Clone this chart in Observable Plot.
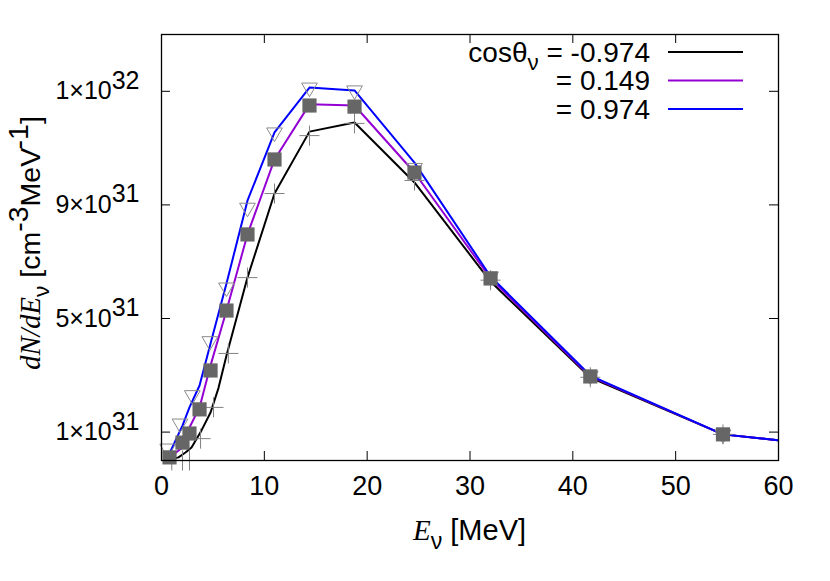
<!DOCTYPE html>
<html><head><meta charset="utf-8">
<script src="https://cdn.jsdelivr.net/npm/d3@7"></script>
<script src="https://cdn.jsdelivr.net/npm/@observablehq/plot@0.6"></script>
<style>
body{margin:0;background:#fff}
#chart svg{font-family:"Liberation Sans",Arial,Helvetica,sans-serif}
</style>
</head><body><div id="chart"></div>
<script>
// ---- data (values in units of 1e31 cm^-3 MeV^-1) ----
const UNIT = 1e31;
const xTicks = [0, 10, 20, 30, 40, 50, 60];
const yTicks = [1e31, 5e31, 9e31, 1.3e32];
const yTickLabels = ["1×10^{31}", "5×10^{31}", "9×10^{31}", "1×10^{32}"];
const legendLabels = ["cosθ_{ν} = -0.974", "= 0.149", "= 0.974"];
const seriesColors = ["#000000", "#9400d3", "#0000ff"];

// lines
const blackE = [0.6, 0.9, 1.65, 2.33, 2.92, 3.89, 4.77, 5.54, 6.32, 8.36, 10.99, 14.39, 18.77, 24.6, 32.0, 41.7, 54.6, 71.3];
const blackV = [0.07, 0.04, 0.11, 0.28, 0.46, 1.06, 1.69, 2.55, 3.70, 6.44, 9.40, 11.58, 11.90, 9.79, 6.30, 2.92, 0.92, 0.28];
const purpleE = [0.78, 2.04, 2.72, 3.70, 4.77, 6.32, 8.36, 10.99, 14.39, 18.77, 24.6, 32.0, 41.7, 54.6, 71.3];
const purpleV = [0.11, 0.46, 1.16, 1.87, 3.35, 5.28, 7.96, 10.60, 12.54, 12.50, 10.14, 6.41, 2.96, 0.92, 0.28];
const blueE = [0.78, 2.04, 2.72, 3.70, 4.77, 6.32, 8.36, 10.99, 14.39, 18.77, 24.6, 32.0, 41.7, 54.6, 71.3];
const blueV = [0.25, 1.23, 1.87, 2.64, 4.12, 6.23, 9.15, 11.55, 13.13, 13.03, 10.49, 6.48, 2.99, 0.92, 0.28];

// markers
const plusE = [1.0, 2.04, 2.72, 3.8, 5.06, 6.5, 8.36, 10.99, 14.39, 18.77, 24.6, 32.0, 41.7, 54.6];
const plusV = [0.0, 0.0, 0.0, 0.77, 1.87, 3.77, 6.44, 9.40, 11.44, 11.87, 9.86, 6.35, 2.93, 0.92];
const triE = [0.6, 1.8, 3.0, 4.7, 6.32, 8.36, 10.99, 14.39, 18.77, 24.6, 32.0, 41.7, 54.6];
const triV = [0.42, 1.30, 2.30, 4.20, 6.09, 8.90, 11.55, 13.13, 13.03, 10.30, 6.48, 2.99, 0.92];
const sqE = [0.78, 2.04, 2.72, 3.70, 4.77, 6.32, 8.36, 10.99, 14.39, 18.77, 24.6, 32.0, 41.7, 54.6];
const sqV = [0.11, 0.63, 0.95, 1.80, 3.17, 5.28, 7.96, 10.6, 12.5, 12.46, 10.14, 6.41, 2.96, 0.92];

const pts = (E, V) => E.map((e, i) => ({E: e, v: V[i] * UNIT}));

const W = 830, H = 581, ML = 161, MR = 52, MT = 34, MB = 121;
const PW = W - ML - MR, PH = H - MT - MB, TL = 9;

const chart = Plot.plot({
  width: W, height: H,
  marginLeft: ML, marginRight: MR, marginTop: MT, marginBottom: MB,
  style: {fontSize: "25px", color: "black", background: "white", overflow: "visible"},
  x: {domain: [0, 60]},
  y: {domain: [0, 1.5e32]},
  marks: [
    Plot.line(pts(blackE, blackV), {x: "E", y: "v", stroke: seriesColors[0], strokeWidth: 2, clip: true}),
    Plot.line(pts(purpleE, purpleV), {x: "E", y: "v", stroke: seriesColors[1], strokeWidth: 2, clip: true}),
    Plot.line(pts(blueE, blueV), {x: "E", y: "v", stroke: seriesColors[2], strokeWidth: 2, clip: true}),
    Plot.dot(pts(plusE, plusV), {x: "E", y: "v", symbol: "plus", stroke: "#808080", strokeWidth: 1, r: 6.5}),
    Plot.dot(pts(triE, triV), {x: "E", y: "v", symbol: "triangle2", rotate: 180, stroke: "#8a8a8a", strokeWidth: 1, r: 7.5}),
    Plot.dot(pts(sqE, sqV), {x: "E", y: "v", symbol: "square", fill: "#666666", r: 8}),
    Plot.tickX(xTicks.slice(1, -1), {x: d => d, insetTop: PH - TL, stroke: "black"}),
    Plot.tickX(xTicks.slice(1, -1), {x: d => d, insetBottom: PH - TL, stroke: "black"}),
    Plot.tickY(yTicks, {y: d => d, insetRight: PW - TL, stroke: "black"}),
    Plot.tickY(yTicks, {y: d => d, insetLeft: PW - TL, stroke: "black"}),
    Plot.frame({stroke: "black", strokeWidth: 1.3}),
    Plot.axisX({ticks: xTicks, tickSize: 0, tickPadding: 15, label: null, fontSize: 27, tickFormat: d => String(d)}),
    Plot.axisY({ticks: yTicks, tickSize: 0, tickPadding: 22, label: null, fontSize: 25, tickFormat: (d, i) => yTickLabels[i]})
  ]
});

document.getElementById("chart").appendChild(chart);
const svg = d3.select(chart);

// rich text helper: ^{..} superscript, _{..} subscript, *{..} italic serif
function rich(el, s) {
  const t = d3.select(el);
  t.text(null);
  const re = /([\^_*])\{([^}]*)\}/g;
  let last = 0, m, shift = 0;
  const add = (txt, kind) => {
    if (!txt) return;
    const sp = t.append("tspan").text(txt);
    let target = 0;
    if (kind === "^") target = -0.42;
    else if (kind === "_") target = 0.3;
    if (kind === "*") sp.attr("font-family", "'Liberation Serif','Times New Roman',serif").attr("font-style", "italic");
    if (kind === "_") sp.attr("font-size", "0.8em");
    const dy = target - shift;
    if (dy !== 0) sp.attr("dy", (kind === "_" ? dy / 0.8 : dy) + "em");
    shift = target;
  };
  while ((m = re.exec(s))) {
    add(s.slice(last, m.index), "");
    add(m[2], m[1]);
    last = re.lastIndex;
  }
  add(s.slice(last), "");
}

svg.selectAll('g[aria-label="y-axis tick label"] text').each(function () {
  rich(this, this.textContent);
});

// legend
const lg = svg.append("g").attr("font-size", 28);
legendLabels.forEach((lab, i) => {
  const y = 52 + i * 28.5;
  const tx = lg.append("text").attr("x", 650).attr("y", y).attr("dy", "0.35em").attr("text-anchor", "end");
  rich(tx.node(), lab);
  lg.append("line").attr("x1", 668).attr("x2", 743).attr("y1", y).attr("y2", y)
    .attr("stroke", seriesColors[i]).attr("stroke-width", 2);
});

// axis titles
const xl = svg.append("text").attr("x", ML + PW / 2).attr("y", 540)
  .attr("text-anchor", "middle").attr("font-size", 29);
rich(xl.node(), "*{E}_{ν} [MeV]");
const yl = svg.append("text").attr("transform", "translate(40,243) rotate(-90)")
  .attr("text-anchor", "middle").attr("font-size", 28.5);
rich(yl.node(), "*{dN/dE}_{ν} [cm^{-3}MeV^{-1}]");
</script>
</body></html>
